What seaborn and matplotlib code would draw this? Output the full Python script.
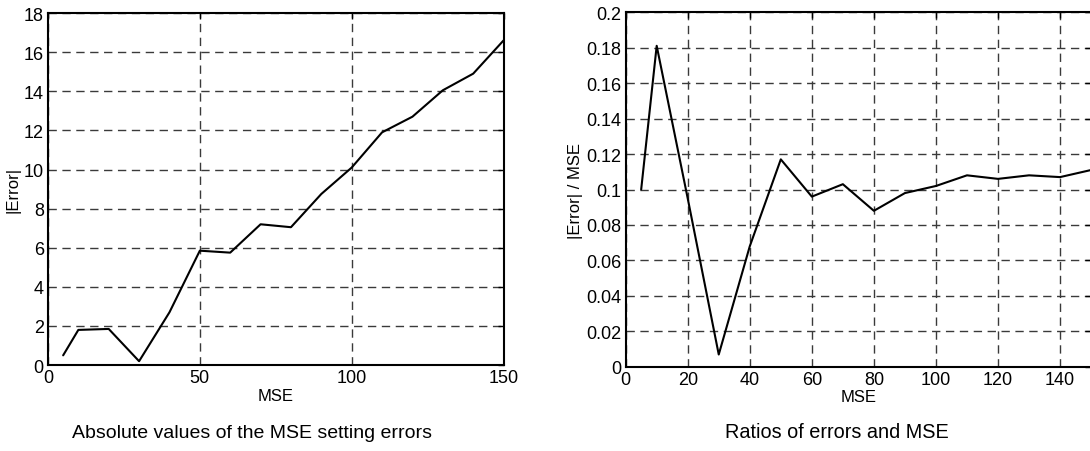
import pandas as pd
import seaborn as sns
import matplotlib
import matplotlib.pyplot as plt

sns.set_style('white')
matplotlib.rcParams['font.family'] = ['Liberation Sans', 'DejaVu Sans']
matplotlib.rcParams['font.size'] = 12
matplotlib.rcParams['text.color'] = 'black'
matplotlib.rcParams['axes.labelcolor'] = 'black'
matplotlib.rcParams['xtick.color'] = 'black'
matplotlib.rcParams['ytick.color'] = 'black'

# Data
mse = [5, 10, 20, 30, 40, 50, 60, 70, 80, 90, 100, 110, 120, 130, 140, 150]
abs_error = [0.5, 1.8, 1.85, 0.2, 2.7, 5.85, 5.75, 7.2, 7.05, 8.75,
             10.1, 11.9, 12.7, 14.05, 14.9, 16.6]
ratio = [0.1, 0.181, 0.095, 0.007, 0.068, 0.117, 0.096, 0.103, 0.088, 0.098,
         0.102, 0.108, 0.106, 0.108, 0.107, 0.111]

left_xticks = [0, 50, 100, 150]
left_yticks = [0, 2, 4, 6, 8, 10, 12, 14, 16, 18]
right_xticks = [0, 20, 40, 60, 80, 100, 120, 140]
right_yticks = [0, 0.02, 0.04, 0.06, 0.08, 0.1, 0.12, 0.14, 0.16, 0.18, 0.2]

df = pd.DataFrame({'MSE': mse, 'abs_error': abs_error, 'ratio': ratio})

fig = plt.figure(figsize=(10.9, 4.52), dpi=100)
ax1 = fig.add_axes([0.044, 0.190, 0.418, 0.779])
ax2 = fig.add_axes([0.574, 0.186, 0.427, 0.785])

sns.lineplot(data=df, x='MSE', y='abs_error', ax=ax1, color='black', linewidth=1.5)
sns.lineplot(data=df, x='MSE', y='ratio', ax=ax2, color='black', linewidth=1.5)

def style_axes(ax, xticks, yticks, ylim, ylabel, labels):
    ax.set_xlim(0, 150)
    ax.set_ylim(*ylim)
    ax.set_xticks(xticks)
    ax.set_yticks(yticks)
    ax.set_xticklabels(labels[0])
    ax.set_yticklabels(labels[1])
    ax.set_xlabel('MSE', fontsize=12, labelpad=1)
    ax.set_ylabel(ylabel, fontsize=12, labelpad=2)
    ax.grid(True, linestyle=(0, (6, 4)), color='#3a3a3a', linewidth=1.0)
    ax.tick_params(direction='in', top=True, right=True, length=4, width=1,
                   labelsize=13, pad=3)
    for s in ax.spines.values():
        s.set_visible(True)
        s.set_color('black')
        s.set_linewidth(1.5)

style_axes(ax1, left_xticks, left_yticks, (0, 18), '|Error|',
           ([str(t) for t in left_xticks], [str(t) for t in left_yticks]))
style_axes(ax2, right_xticks, right_yticks, (0, 0.2), '|Error| / MSE',
           ([str(t) for t in right_xticks], ['0'] + ['%g' % t for t in right_yticks[1:]]))

fig.text(0.231, 0.032, 'Absolute values of the MSE setting errors', ha='center', fontsize=14)
fig.text(0.768, 0.032, 'Ratios of errors and MSE', ha='center', fontsize=14.3)

fig.savefig('out.png', dpi=100)
